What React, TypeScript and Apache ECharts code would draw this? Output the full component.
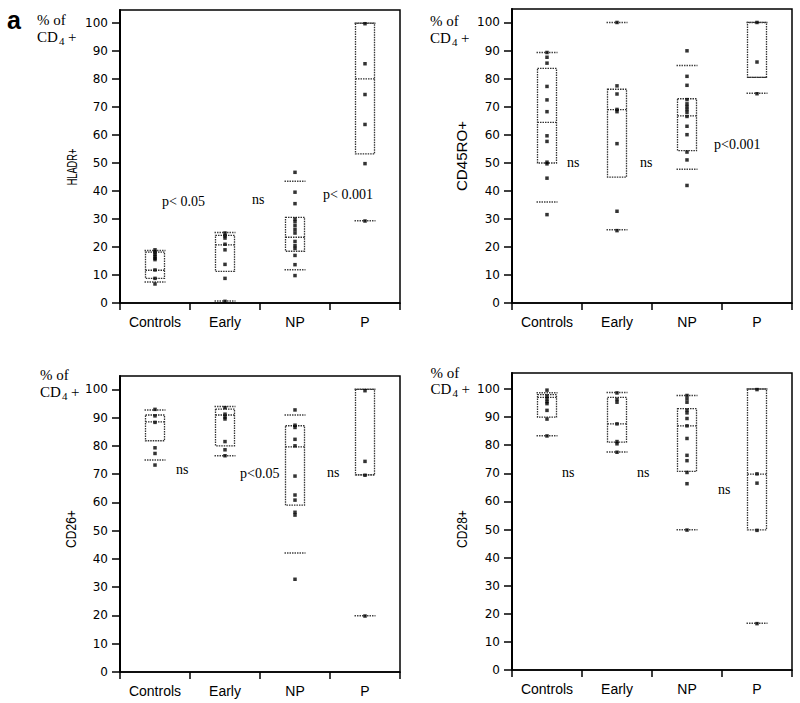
import React, { useEffect, useRef } from "react";
import * as echarts from "echarts";

const categories = ["Controls", "Early", "NP", "P"];
const yTickValues = [0, 10, 20, 30, 40, 50, 60, 70, 80, 90, 100];

// box statistics per category: [10th pct, Q1, median, Q3, 90th pct]
const hladrBoxes = [
  [7.5, 8.8, 11.7, 18.2, 18.8],
  [0.7, 11.3, 20.8, 24.2, 25.2],
  [11.9, 18.5, 23.5, 30.6, 43.5],
  [29.4, 53.3, 80.1, 100, 100],
];
const hladrPoints = [
  [19, 18.2, 17.4, 16.7, 16, 15.5, 11.8, 8.8, 6.8],
  [25, 24, 23.2, 21, 19, 13.8, 8.8, 0.6],
  [46.7, 39.6, 35.5, 30, 29, 27.6, 26.2, 25, 22, 20.5, 19.5, 17, 13.7, 9.8],
  [99.8, 85.5, 74.5, 63.8, 49.8, 29.3],
];

const cd45Boxes = [
  [36.0, 49.9, 64.4, 83.6, 89.3],
  [26.1, 44.9, 68.9, 76.2, 100],
  [47.7, 54.3, 66.7, 72.8, 84.7],
  [74.8, 80.4, 80.4, 100, 100],
];
const cd45Points = [
  [89.3, 87.6, 85.5, 77.2, 72.4, 68.2, 59.6, 57.6, 50.2, 49.6, 44.5, 31.5],
  [100, 77.4, 74.5, 69, 68.2, 56.8, 32.7, 25.8],
  [89.9, 80.8, 77.6, 72.5, 71, 70, 69, 68, 66.5, 63, 60, 53.8, 51, 41.9],
  [100, 85.9, 74.6],
];

const cd26Boxes = [
  [75.0, 81.8, 88.5, 90.9, 92.7],
  [76.5, 80.0, 90.9, 93.0, 93.9],
  [42.1, 59.0, 79.6, 87.1, 90.9],
  [19.9, 69.7, 69.7, 100, 100],
];
const cd26Points = [
  [92.9, 90.6, 88.3, 79.3, 77.3, 73.2],
  [93.5, 91.2, 90.2, 89.5, 81.5, 78.6, 76.5],
  [92.7, 87.3, 86.5, 82.3, 80, 69.3, 62.6, 60.8, 56.5, 55.5, 32.8],
  [99.5, 74.5, 69.6, 19.8],
];

const cd28Boxes = [
  [83.4, 90.0, 97.0, 98.0, 98.7],
  [77.6, 81.1, 87.6, 97.0, 98.8],
  [49.9, 70.7, 86.9, 93.0, 97.7],
  [16.6, 49.9, 69.7, 100, 100],
];
const cd28Points = [
  [99.6, 97.5, 96.5, 95.5, 94.8, 92.4, 89.3, 83.3],
  [98.6, 96.3, 95.3, 87.6, 81.3, 80.5, 77.5],
  [97.7, 96.5, 95.3, 92.5, 91.5, 89.5, 86.9, 82.4, 76.4, 74.5, 70.3, 66.3, 49.8],
  [99.8, 69.8, 66.5, 49.7, 16.5],
];

const hladrNotes = ["p< 0.05", "ns", "p< 0.001"];
const cd45Notes = ["ns", "ns", "p<0.001"];
const cd26Notes = ["ns", "p<0.05", "ns"];
const cd28Notes = ["ns", "ns", "ns"];

const serif = '"Liberation Serif", "Times New Roman", serif';
const sans = '"Liberation Sans", Arial, sans-serif';
const tickFont = '"DejaVu Sans", "Liberation Sans", sans-serif';

const panels = [
  {
    name: "HLADR+", boxes: hladrBoxes, points: hladrPoints, notes: hladrNotes,
    grid: { left: 120, top: 10, width: 280, height: 293 }, yMax: 104.7,
    nameX: 72.5, nameY: 167, nameScale: 0.66,
    pct: { x: 37, y1: 20, y2: 36.5 },
    notePos: [[162, 201], [252, 199], [323, 194]],
  },
  {
    name: "CD45RO+", boxes: cd45Boxes, points: cd45Points, notes: cd45Notes,
    grid: { left: 512, top: 9, width: 280, height: 294 }, yMax: 104.8,
    nameX: 462.5, nameY: 156, nameScale: 1.08,
    pct: { x: 430, y1: 21, y2: 37.5 },
    notePos: [[567, 162.5], [640, 162.5], [714, 144]],
  },
  {
    name: "CD26+", boxes: cd26Boxes, points: cd26Points, notes: cd26Notes,
    grid: { left: 120, top: 376, width: 280, height: 296 }, yMax: 104.7,
    nameX: 70.8, nameY: 529, nameScale: 0.86,
    pct: { x: 40, y1: 374.5, y2: 391.5 },
    notePos: [[176, 469], [240, 473], [327, 472]],
  },
  {
    name: "CD28+", boxes: cd28Boxes, points: cd28Points, notes: cd28Notes,
    grid: { left: 512, top: 373, width: 280, height: 297 }, yMax: 105.7,
    nameX: 462.5, nameY: 529, nameScale: 0.86,
    pct: { x: 430.5, y1: 372.5, y2: 389 },
    notePos: [[562, 472], [637, 472], [718, 489]],
  },
];

function pctLabel(x: number, y1: number, y2: number) {
  const st = { fontSize: 15, fontFamily: serif, fill: "#000", verticalAlign: "middle", align: "left" };
  return [
    { type: "text", x, y: y1, style: { ...st, text: "% of" } },
    { type: "text", x, y: y2, style: { ...st, text: "CD" } },
    { type: "text", x: x + 22, y: y2 + 4, style: { ...st, fontSize: 11, text: "4" } },
    { type: "text", x: x + 31, y: y2, style: { ...st, text: "+" } },
  ];
}

function buildOption() {
  const grid: any[] = [];
  const xAxis: any[] = [];
  const yAxis: any[] = [];
  const series: any[] = [];
  const graphic: any[] = [];

  panels.forEach((p, i) => {
    grid.push({ ...p.grid, show: true, borderColor: "#000", borderWidth: 1.5, containLabel: false });
    xAxis.push({
      type: "category", gridIndex: i, data: categories, boundaryGap: true,
      axisLine: { show: true, lineStyle: { color: "#000", width: 1.5 } },
      axisTick: { show: true, length: 7, lineStyle: { color: "#000", width: 1.5 } },
      axisLabel: { color: "#000", fontFamily: sans, fontSize: 14, margin: 12 },
      splitLine: { show: false },
    });
    yAxis.push({
      type: "value", gridIndex: i, min: 0, max: p.yMax,
      axisLine: { show: true, lineStyle: { color: "#000", width: 2 } },
      axisTick: { show: true, length: 8, customValues: yTickValues, lineStyle: { color: "#000", width: 1.5 } },
      axisLabel: { customValues: yTickValues, color: "#000", fontFamily: tickFont, fontSize: 12, margin: 12 },
      splitLine: { show: false },
    });
    series.push({
      type: "custom", xAxisIndex: i, yAxisIndex: i,
      data: p.boxes.map((b, ci) => [ci, ...b]),
      encode: { x: 0, y: [1, 2, 3, 4, 5] },
      renderItem: (params: any, api: any) => {
        const cat = api.value(0);
        const xc = api.coord([cat, 0])[0];
        const yv = (k: number) => api.coord([cat, api.value(k)])[1];
        const p10 = yv(1), q1 = yv(2), med = yv(3), q3 = yv(4), p90 = yv(5);
        const bw = 19;
        const dotted = { fill: "none", stroke: "#333", lineWidth: 1.3, lineDash: [1.5, 1] };
        const capStyle = { stroke: "#444", lineWidth: 1.5, lineDash: [1.5, 1] };
        return {
          type: "group",
          children: [
            { type: "rect", shape: { x: xc - bw / 2, y: q3, width: bw, height: q1 - q3 }, style: dotted },
            { type: "line", shape: { x1: xc - bw / 2, y1: med, x2: xc + bw / 2, y2: med }, style: dotted },
            { type: "line", shape: { x1: xc - bw / 2 - 1, y1: p90, x2: xc + bw / 2 + 1, y2: p90 }, style: capStyle },
            { type: "line", shape: { x1: xc - bw / 2 - 1, y1: p10, x2: xc + bw / 2 + 1, y2: p10 }, style: capStyle },
          ],
        };
      },
      z: 2,
    });
    series.push({
      type: "scatter", xAxisIndex: i, yAxisIndex: i,
      data: p.points.flatMap((arr, ci) => arr.map((v) => [ci, v])),
      symbol: "rect", symbolSize: 3.5,
      itemStyle: { color: "#000" },
      z: 3,
    });

    graphic.push({
      type: "text", x: p.nameX, y: p.nameY, rotation: Math.PI / 2, scaleX: p.nameScale,
      style: { text: p.name, fontSize: 14, fontFamily: sans, fill: "#000", align: "center", verticalAlign: "middle" },
    });
    graphic.push(...pctLabel(p.pct.x, p.pct.y1, p.pct.y2));
    p.notes.forEach((t, k) => {
      graphic.push({
        type: "text", x: p.notePos[k][0], y: p.notePos[k][1],
        style: { text: t, fontSize: 14, fontFamily: serif, fill: "#000", align: "left", verticalAlign: "middle" },
      });
    });
  });

  graphic.push({
    type: "text", x: 7, y: 20,
    style: { text: "a", fontSize: 25, fontWeight: "bold", fontFamily: sans, fill: "#000", align: "left", verticalAlign: "middle" },
  });

  return {
    animation: false,
    backgroundColor: "#fff",
    grid, xAxis, yAxis, series, graphic,
  };
}

export default function App() {
  const ref = useRef<HTMLDivElement>(null);
  useEffect(() => {
    const chart = echarts.init(ref.current!, null, { renderer: "svg" });
    chart.setOption(buildOption() as any);
    return () => chart.dispose();
  }, []);
  return (
    <div
      ref={ref}
      style={{ position: "fixed", left: 0, top: 0, width: 800, height: 703, background: "#fff" }}
    />
  );
}
